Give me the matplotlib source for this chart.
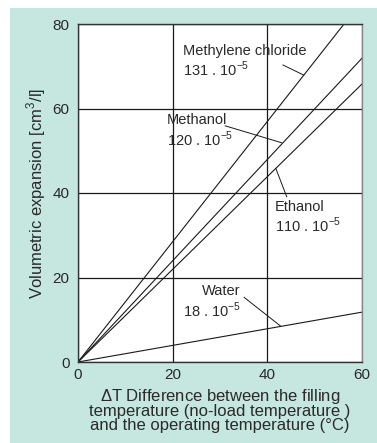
import matplotlib
matplotlib.use("Agg")
import matplotlib.pyplot as plt
from matplotlib.patches import Rectangle

plt.rcParams["font.family"] = ["Liberation Sans", "DejaVu Sans"]

# Data
delta_t = [0, 60]
methylene_chloride = [0, 85.4]
methanol = [0, 71.9]
ethanol = [0, 65.8]
water = [0, 11.8]

x_ticks = [0, 20, 40, 60]
y_ticks = [0, 20, 40, 60, 80]

# label text, text position, leader line (from, to), alignment
labels = [
    ("Methylene chloride\n131 . 10$^{\\mathregular{-5}}$", (22.2, 71.1), ((43.3, 70.3), (47.7, 67.9)), "left"),
    ("Methanol\n120 . 10$^{\\mathregular{-5}}$", (18.8, 54.7), ((31.1, 55.9), (43.0, 51.9)), "left"),
    ("Ethanol\n110 . 10$^{\\mathregular{-5}}$", (41.6, 34.2), ((44.1, 39.1), (41.8, 45.8)), "left"),
    ("Water\n18 . 10$^{\\mathregular{-5}}$", (34.4, 14.2), ((35.1, 15.3), (42.8, 8.5)), "right"),
]

fig = plt.figure(figsize=(3.77, 4.43), dpi=100)
bg = Rectangle((10 / 377, 0), 1, 1 - 8 / 443, transform=fig.transFigure,
               facecolor="#c6e7e0", edgecolor="none", zorder=-10)
fig.add_artist(bg)

ax = fig.add_axes([78 / 377, 81 / 443, 284 / 377, 338 / 443])
ax.set_zorder(5)
ax.set_facecolor("white")

for series in [methylene_chloride, methanol, ethanol, water]:
    ax.plot(delta_t, series, color="#1a1a1a", lw=0.8, clip_on=True)

for text, pos, leader, ha in labels:
    ax.text(pos[0], pos[1], text, ha=ha, va="center", fontsize=10.5,
            color="#2a2a2a", linespacing=1.15)
    ax.plot([leader[0][0], leader[1][0]], [leader[0][1], leader[1][1]],
            color="#1a1a1a", lw=0.7)

ax.set_xlim(0, 60)
ax.set_ylim(0, 80)
ax.set_xticks(x_ticks)
ax.set_yticks(y_ticks)
ax.grid(True, color="#1a1a1a", lw=0.9)
ax.tick_params(length=0, labelsize=11, colors="#2a2a2a", pad=4)
ax.tick_params(axis="y", pad=6)
for s in ax.spines.values():
    s.set_color("#333333")
    s.set_linewidth(1.0)
ax.spines["right"].set_color("#888888")

ax.set_ylabel("Volumetric expansion [cm$^{\\mathregular{3}}$/l]", fontsize=12,
              color="#2a2a2a", labelpad=3)
ax.set_xlabel("$\\mathregular{\\Delta}$T Difference between the filling\n"
              "temperature (no-load temperature )\n"
              "and the operating temperature (°C)",
              fontsize=12, color="#2a2a2a", linespacing=0.85, labelpad=4)

plt.savefig("out.png", dpi=100)
